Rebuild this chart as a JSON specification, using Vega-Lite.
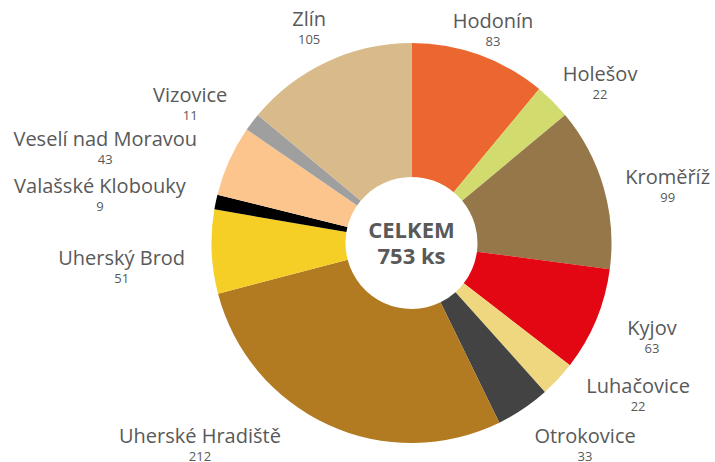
{
  "$schema": "https://vega.github.io/schema/vega-lite/v6.json",
  "width": 607,
  "height": 438,
  "autosize": {"type": "none"},
  "padding": {"left": 108, "top": 24, "right": 0, "bottom": 0},
  "background": "white",
  "config": {"view": {"stroke": null}},
  "data": {
    "values": [
      {"name": "Hodonín", "value": 83},
      {"name": "Holešov", "value": 22},
      {"name": "Kroměříž", "value": 99},
      {"name": "Kyjov", "value": 63},
      {"name": "Luhačovice", "value": 22},
      {"name": "Otrokovice", "value": 33},
      {"name": "Uherské Hradiště", "value": 212},
      {"name": "Uherský Brod", "value": 51},
      {"name": "Valašské Klobouky", "value": 9},
      {"name": "Veselí nad Moravou", "value": 43},
      {"name": "Vizovice", "value": 11},
      {"name": "Zlín", "value": 105}
    ]
  },
  "encoding": {
    "theta": {"field": "value", "type": "quantitative", "stack": true},
    "order": {"field": "name", "sort": "ascending"},
    "detail": {"field": "name", "type": "nominal"}
  },
  "layer": [
    {
      "mark": {"type": "arc", "outerRadius": 200, "innerRadius": 66},
      "encoding": {
        "color": {
          "field": "name", "type": "nominal", "legend": null,
          "scale": {
            "domain": ["Hodonín","Holešov","Kroměříž","Kyjov","Luhačovice","Otrokovice","Uherské Hradiště","Uherský Brod","Valašské Klobouky","Veselí nad Moravou","Vizovice","Zlín"],
            "range": ["#EC662F","#D2DC6E","#957749","#E30613","#EED77E","#434343","#B27B21","#F5CE26","#000000","#FDC58E","#9F9F9F","#D9BB8B"]
          }
        }
      }
    },
    {"mark": {"type": "text", "radius": 236, "thetaOffset": -0.0105, "font": "Open Sans", "fontSize": 20, "color": "#595959", "baseline": "middle", "dy": -10},
     "encoding": {"text": {"condition": {"test": "datum.name === 'Zlín'", "field": "name", "type": "nominal"}, "value": ""}}},
    {"mark": {"type": "text", "radius": 236, "thetaOffset": -0.0105, "font": "Open Sans", "fontSize": 13, "color": "#595959", "baseline": "middle", "dy": 10},
     "encoding": {"text": {"condition": {"test": "datum.name === 'Zlín'", "field": "value", "type": "quantitative"}, "value": ""}}},
    {"mark": {"type": "text", "radius": 226, "thetaOffset": 0.0227, "font": "Open Sans", "fontSize": 20, "color": "#595959", "baseline": "middle", "dy": -10},
     "encoding": {"text": {"condition": {"test": "datum.name === 'Hodonín'", "field": "name", "type": "nominal"}, "value": ""}}},
    {"mark": {"type": "text", "radius": 226, "thetaOffset": 0.0227, "font": "Open Sans", "fontSize": 13, "color": "#595959", "baseline": "middle", "dy": 10},
     "encoding": {"text": {"condition": {"test": "datum.name === 'Hodonín'", "field": "value", "type": "quantitative"}, "value": ""}}},
    {"mark": {"type": "text", "radius": 246, "thetaOffset": 0.089, "font": "Open Sans", "fontSize": 20, "color": "#595959", "baseline": "middle", "dy": -10},
     "encoding": {"text": {"condition": {"test": "datum.name === 'Holešov'", "field": "name", "type": "nominal"}, "value": ""}}},
    {"mark": {"type": "text", "radius": 246, "thetaOffset": 0.089, "font": "Open Sans", "fontSize": 13, "color": "#595959", "baseline": "middle", "dy": 10},
     "encoding": {"text": {"condition": {"test": "datum.name === 'Holešov'", "field": "value", "type": "quantitative"}, "value": ""}}},
    {"mark": {"type": "text", "radius": 262, "thetaOffset": 0.0698, "font": "Open Sans", "fontSize": 20, "color": "#595959", "baseline": "middle", "dy": -10},
     "encoding": {"text": {"condition": {"test": "datum.name === 'Kroměříž'", "field": "name", "type": "nominal"}, "value": ""}}},
    {"mark": {"type": "text", "radius": 262, "thetaOffset": 0.0698, "font": "Open Sans", "fontSize": 13, "color": "#595959", "baseline": "middle", "dy": 10},
     "encoding": {"text": {"condition": {"test": "datum.name === 'Kroměříž'", "field": "value", "type": "quantitative"}, "value": ""}}},
    {"mark": {"type": "text", "radius": 259, "thetaOffset": -0.014, "font": "Open Sans", "fontSize": 20, "color": "#595959", "baseline": "middle", "dy": -10},
     "encoding": {"text": {"condition": {"test": "datum.name === 'Kyjov'", "field": "name", "type": "nominal"}, "value": ""}}},
    {"mark": {"type": "text", "radius": 259, "thetaOffset": -0.014, "font": "Open Sans", "fontSize": 13, "color": "#595959", "baseline": "middle", "dy": 10},
     "encoding": {"text": {"condition": {"test": "datum.name === 'Kyjov'", "field": "value", "type": "quantitative"}, "value": ""}}},
    {"mark": {"type": "text", "radius": 274, "thetaOffset": -0.152, "font": "Open Sans", "fontSize": 20, "color": "#595959", "baseline": "middle", "dy": -10},
     "encoding": {"text": {"condition": {"test": "datum.name === 'Luhačovice'", "field": "name", "type": "nominal"}, "value": ""}}},
    {"mark": {"type": "text", "radius": 274, "thetaOffset": -0.152, "font": "Open Sans", "fontSize": 13, "color": "#595959", "baseline": "middle", "dy": 10},
     "encoding": {"text": {"condition": {"test": "datum.name === 'Luhačovice'", "field": "value", "type": "quantitative"}, "value": ""}}},
    {"mark": {"type": "text", "radius": 268, "thetaOffset": -0.112, "font": "Open Sans", "fontSize": 20, "color": "#595959", "baseline": "middle", "dy": -10},
     "encoding": {"text": {"condition": {"test": "datum.name === 'Otrokovice'", "field": "name", "type": "nominal"}, "value": ""}}},
    {"mark": {"type": "text", "radius": 268, "thetaOffset": -0.112, "font": "Open Sans", "fontSize": 13, "color": "#595959", "baseline": "middle", "dy": 10},
     "encoding": {"text": {"condition": {"test": "datum.name === 'Otrokovice'", "field": "value", "type": "quantitative"}, "value": ""}}},
    {"mark": {"type": "text", "radius": 294, "thetaOffset": 0.3735, "font": "Open Sans", "fontSize": 20, "color": "#595959", "baseline": "middle", "dy": -10},
     "encoding": {"text": {"condition": {"test": "datum.name === 'Uherské Hradiště'", "field": "name", "type": "nominal"}, "value": ""}}},
    {"mark": {"type": "text", "radius": 294, "thetaOffset": 0.3735, "font": "Open Sans", "fontSize": 13, "color": "#595959", "baseline": "middle", "dy": 10},
     "encoding": {"text": {"condition": {"test": "datum.name === 'Uherské Hradiště'", "field": "value", "type": "quantitative"}, "value": ""}}},
    {"mark": {"type": "text", "radius": 291, "thetaOffset": -0.045, "font": "Open Sans", "fontSize": 20, "color": "#595959", "baseline": "middle", "dy": -10},
     "encoding": {"text": {"condition": {"test": "datum.name === 'Uherský Brod'", "field": "name", "type": "nominal"}, "value": ""}}},
    {"mark": {"type": "text", "radius": 291, "thetaOffset": -0.045, "font": "Open Sans", "fontSize": 13, "color": "#595959", "baseline": "middle", "dy": 10},
     "encoding": {"text": {"condition": {"test": "datum.name === 'Uherský Brod'", "field": "value", "type": "quantitative"}, "value": ""}}},
    {"mark": {"type": "text", "radius": 315, "thetaOffset": -0.059, "font": "Open Sans", "fontSize": 20, "color": "#595959", "baseline": "middle", "dy": -10},
     "encoding": {"text": {"condition": {"test": "datum.name === 'Valašské Klobouky'", "field": "name", "type": "nominal"}, "value": ""}}},
    {"mark": {"type": "text", "radius": 315, "thetaOffset": -0.059, "font": "Open Sans", "fontSize": 13, "color": "#595959", "baseline": "middle", "dy": 10},
     "encoding": {"text": {"condition": {"test": "datum.name === 'Valašské Klobouky'", "field": "value", "type": "quantitative"}, "value": ""}}},
    {"mark": {"type": "text", "radius": 320, "thetaOffset": -0.129, "font": "Open Sans", "fontSize": 20, "color": "#595959", "baseline": "middle", "dy": -10},
     "encoding": {"text": {"condition": {"test": "datum.name === 'Veselí nad Moravou'", "field": "name", "type": "nominal"}, "value": ""}}},
    {"mark": {"type": "text", "radius": 320, "thetaOffset": -0.129, "font": "Open Sans", "fontSize": 13, "color": "#595959", "baseline": "middle", "dy": 10},
     "encoding": {"text": {"condition": {"test": "datum.name === 'Veselí nad Moravou'", "field": "value", "type": "quantitative"}, "value": ""}}},
    {"mark": {"type": "text", "radius": 260, "thetaOffset": -0.096, "font": "Open Sans", "fontSize": 20, "color": "#595959", "baseline": "middle", "dy": -10},
     "encoding": {"text": {"condition": {"test": "datum.name === 'Vizovice'", "field": "name", "type": "nominal"}, "value": ""}}},
    {"mark": {"type": "text", "radius": 260, "thetaOffset": -0.096, "font": "Open Sans", "fontSize": 13, "color": "#595959", "baseline": "middle", "dy": 10},
     "encoding": {"text": {"condition": {"test": "datum.name === 'Vizovice'", "field": "value", "type": "quantitative"}, "value": ""}}},
    {"data": {"values": [{"line1": "CELKEM", "line2": "753 ks"}]},
     "mark": {"type": "text", "font": "Open Sans", "fontSize": 22, "fontWeight": "bold", "color": "#595959", "baseline": "middle", "dy": -12},
     "encoding": {"theta": null, "order": null, "detail": null, "text": {"field": "line1", "type": "nominal"}}},
    {"data": {"values": [{"line1": "CELKEM", "line2": "753 ks"}]},
     "mark": {"type": "text", "font": "Open Sans", "fontSize": 22, "fontWeight": "bold", "color": "#595959", "baseline": "middle", "dy": 14},
     "encoding": {"theta": null, "order": null, "detail": null, "text": {"field": "line2", "type": "nominal"}}}
  ]
}
